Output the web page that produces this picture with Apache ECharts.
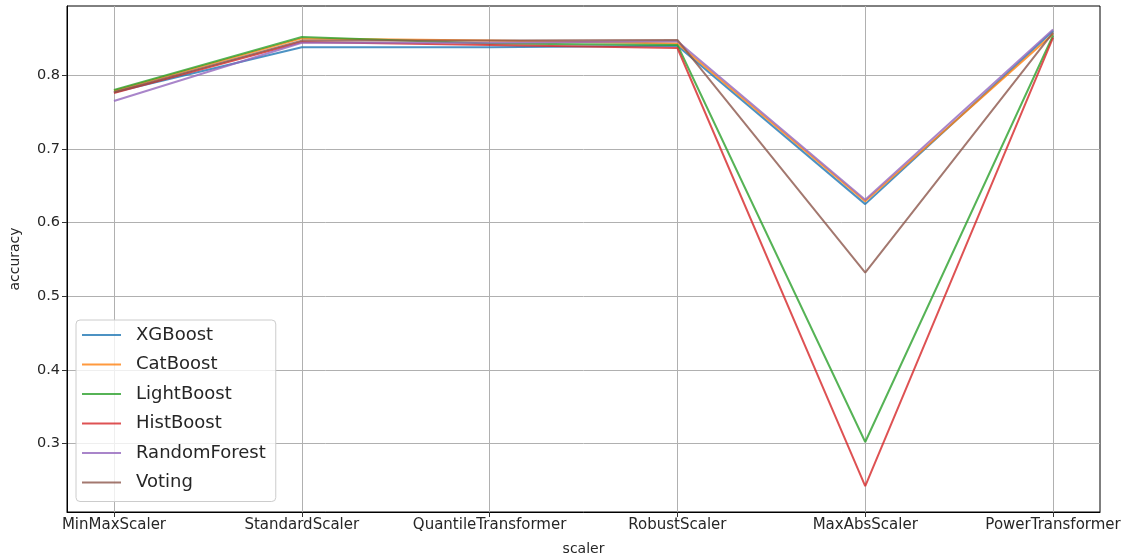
<!DOCTYPE html>
<html>
<head>
<meta charset="utf-8">
<script src="https://cdn.jsdelivr.net/npm/echarts@6/dist/echarts.min.js"></script>
<style>
  html, body { margin: 0; padding: 0; background: #fff; }
  #chart { width: 1125px; height: 559px; }
</style>
</head>
<body>
<div id="chart"></div>
<script>
// Scalers compared on the x axis
const scalers = ['MinMaxScaler', 'StandardScaler', 'QuantileTransformer', 'RobustScaler', 'MaxAbsScaler', 'PowerTransformer'];

// Accuracy per model for each scaler
const xgboost      = [0.777, 0.838, 0.838, 0.840, 0.625, 0.860];
const catboost     = [0.779, 0.850, 0.847, 0.843, 0.629, 0.856];
const lightboost   = [0.780, 0.852, 0.843, 0.841, 0.302, 0.854];
const histboost    = [0.776, 0.845, 0.841, 0.837, 0.242, 0.851];
const randomforest = [0.765, 0.844, 0.844, 0.846, 0.631, 0.862];
const voting       = [0.777, 0.847, 0.847, 0.848, 0.532, 0.858];

const yTicks = [0.3, 0.4, 0.5, 0.6, 0.7, 0.8];

const models = [
  { name: 'XGBoost', data: xgboost, color: '#1f77b4' },
  { name: 'CatBoost', data: catboost, color: '#ff7f0e' },
  { name: 'LightBoost', data: lightboost, color: '#2ca02c' },
  { name: 'HistBoost', data: histboost, color: '#d62728' },
  { name: 'RandomForest', data: randomforest, color: '#9467bd' },
  { name: 'Voting', data: voting, color: '#8c564b' }
];

const xIdx = scalers.map((_, i) => i);
const font = 'DejaVu Sans';
const textColor = '#262626';

const chart = echarts.init(document.getElementById('chart'), null, { renderer: 'canvas' });

chart.setOption({
  animation: false,
  backgroundColor: '#ffffff',
  grid: {
    left: 67, right: 25, top: 6, bottom: 47,
    containLabel: false,
    outerBoundsMode: 'none',
    show: true, borderColor: '#000', borderWidth: 1, backgroundColor: 'transparent'
  },
  xAxis: {
    type: 'value',
    min: -0.25,
    max: 5.25,
    name: 'scaler',
    nameLocation: 'middle',
    nameGap: 30,
    nameTextStyle: { fontFamily: font, fontSize: 14, color: textColor },
    axisLine: { show: true, onZero: false, lineStyle: { color: '#000', width: 1 } },
    axisTick: { show: true, length: 5, customValues: xIdx, lineStyle: { color: '#333' } },
    axisLabel: {
      customValues: xIdx,
      fontFamily: font, fontSize: 15, color: textColor, margin: 6,
      hideOverlap: false,
      formatter: v => scalers[Math.round(v)] || ''
    },
    splitLine: { show: true, lineStyle: { color: '#b0b0b0', width: 1 } }
  },
  yAxis: {
    type: 'value',
    min: 0.207,
    max: 0.894,
    name: 'accuracy',
    nameLocation: 'middle',
    nameGap: 45,
    nameTextStyle: { fontFamily: font, fontSize: 14, color: textColor },
    axisLine: { show: true, onZero: false, lineStyle: { color: '#000', width: 1 } },
    axisTick: { show: true, length: 5, customValues: yTicks, lineStyle: { color: '#333' } },
    axisLabel: {
      customValues: yTicks,
      fontFamily: font, fontSize: 14.5, color: textColor, margin: 7,
      formatter: v => v.toFixed(1)
    },
    splitLine: { show: true, lineStyle: { color: '#b0b0b0', width: 1 } }
  },
  legend: {
    orient: 'vertical',
    left: 76,
    top: 320,
    icon: 'rect',
    itemWidth: 39,
    itemHeight: 2,
    itemGap: 9.5,
    padding: [5, 10, 9, 6],
    backgroundColor: 'rgba(255,255,255,0.8)',
    borderColor: '#cccccc',
    borderWidth: 1,
    borderRadius: 4,
    textStyle: { fontFamily: font, fontSize: 18, color: textColor, lineHeight: 20, padding: [0, 0, 0, 10] },
    data: models.map(m => m.name)
  },
  series: models.map(m => ({
    name: m.name,
    type: 'line',
    data: m.data.map((v, i) => [i, v]),
    showSymbol: false,
    symbol: 'none',
    lineStyle: { color: m.color, width: 2, opacity: 0.8 },
    itemStyle: { color: m.color, opacity: 0.8 },
    emphasis: { disabled: true }
  }))
});
</script>
</body>
</html>
